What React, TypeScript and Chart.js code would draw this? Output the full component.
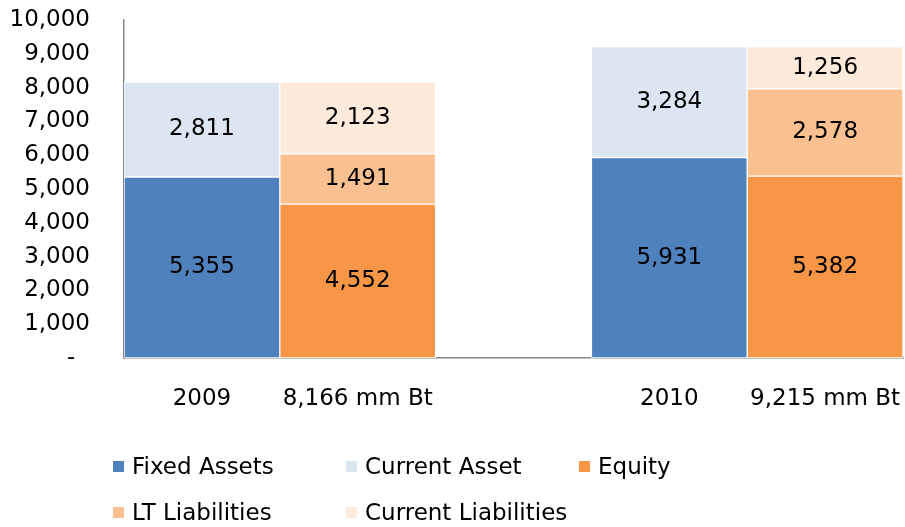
import React, { useEffect, useRef } from "react";
import { Chart, registerables } from "chart.js";

Chart.register(...registerables);

const categories = ["2009", "8,166 mm Bt", "", "2010", "9,215 mm Bt"];
const fixedAssets = [5355, null, null, 5931, null];
const currentAsset = [2811, null, null, 3284, null];
const equity = [null, 4552, null, null, 5382];
const ltLiabilities = [null, 1491, null, null, 2578];
const currentLiabilities = [null, 2123, null, null, 1256];

const seriesNames = ["Fixed Assets", "Current Asset", "Equity", "LT Liabilities", "Current Liabilities"];
const seriesColors = ["#4F81BD", "#DCE6F2", "#F79646", "#FAC090", "#FDEADA"];

const FONT = "'DejaVu Sans', sans-serif";

const labelPlugin = {
  id: "segLabels",
  afterDatasetsDraw(chart: any) {
    const ctx = chart.ctx;
    ctx.save();
    ctx.font = `23px ${FONT}`;
    ctx.fillStyle = "#000";
    ctx.textAlign = "center";
    ctx.textBaseline = "middle";
    chart.data.datasets.forEach((ds: any, i: number) => {
      const meta = chart.getDatasetMeta(i);
      meta.data.forEach((el: any, j: number) => {
        const v = ds.data[j];
        if (v == null) return;
        const y = (el.y + el.base) / 2;
        ctx.fillText(Number(v).toLocaleString("en-US"), el.x, y);
      });
    });
    ctx.restore();
  },
};

export default function App() {
  const ref = useRef<HTMLCanvasElement | null>(null);
  useEffect(() => {
    if (!ref.current) return;
    const allData = [fixedAssets, currentAsset, equity, ltLiabilities, currentLiabilities];
    const chart = new Chart(ref.current, {
      type: "bar",
      data: {
        labels: categories,
        datasets: allData.map((d, i) => ({
          label: seriesNames[i],
          data: d,
          backgroundColor: seriesColors[i],
          borderColor: "#FFFFFF",
          borderWidth: 1,
          borderSkipped: false,
          barPercentage: 1,
          categoryPercentage: 1,
        })),
      },
      options: {
        responsive: false,
        animation: false,
        maintainAspectRatio: false,
        layout: { padding: { top: 20, right: 2, left: 0, bottom: 0 } },
        plugins: { legend: { display: false }, tooltip: { enabled: false } },
        scales: {
          x: {
            stacked: true,
            grid: { display: false, drawTicks: false },
            border: { display: true, color: "#868686", width: 1.5 },
            ticks: { color: "#000", font: { family: FONT, size: 23 }, padding: 27, maxRotation: 0, autoSkip: false },
            afterFit: (s: any) => {
              s.height = 169;
              s.paddingLeft = 0;
              s.paddingRight = 0;
            },
          },
          y: {
            stacked: true,
            min: 0,
            max: 10000,
            grid: { display: false, drawTicks: false },
            border: { display: true, color: "#868686", width: 1.5 },
            ticks: {
              stepSize: 1000,
              color: "#000",
              font: { family: FONT, size: 23 },
              padding: 34,
              callback: (v: any) => (Number(v) === 0 ? "-  " : Number(v).toLocaleString("en-US")),
            },
            afterFit: (s: any) => {
              s.width = 124;
              s.paddingTop = 0;
              s.paddingBottom = 0;
            },
          },
        },
      },
      plugins: [labelPlugin],
    });
    return () => chart.destroy();
  }, []);

  const rows = [[0, 1, 2], [3, 4]];
  return (
    <div style={{ position: "absolute", left: 0, top: 0, width: 905, height: 527, background: "#fff" }}>
      <canvas ref={ref} width={905} height={527} style={{ display: "block" }} />
      {rows.map((row, r) =>
        row.map((idx, c) => (
          <div
            key={idx}
            style={{
              position: "absolute",
              left: 113 + c * 233,
              top: (r === 0 ? 466 : 512) - 15,
              height: 30,
              display: "flex",
              alignItems: "center",
              fontFamily: FONT,
              fontSize: 23,
              color: "#000",
              whiteSpace: "nowrap",
            }}
          >
            <span style={{ display: "inline-block", width: 11, height: 11, background: seriesColors[idx], marginRight: 8 }} />
            <span>{seriesNames[idx]}</span>
          </div>
        ))
      )}
    </div>
  );
}
